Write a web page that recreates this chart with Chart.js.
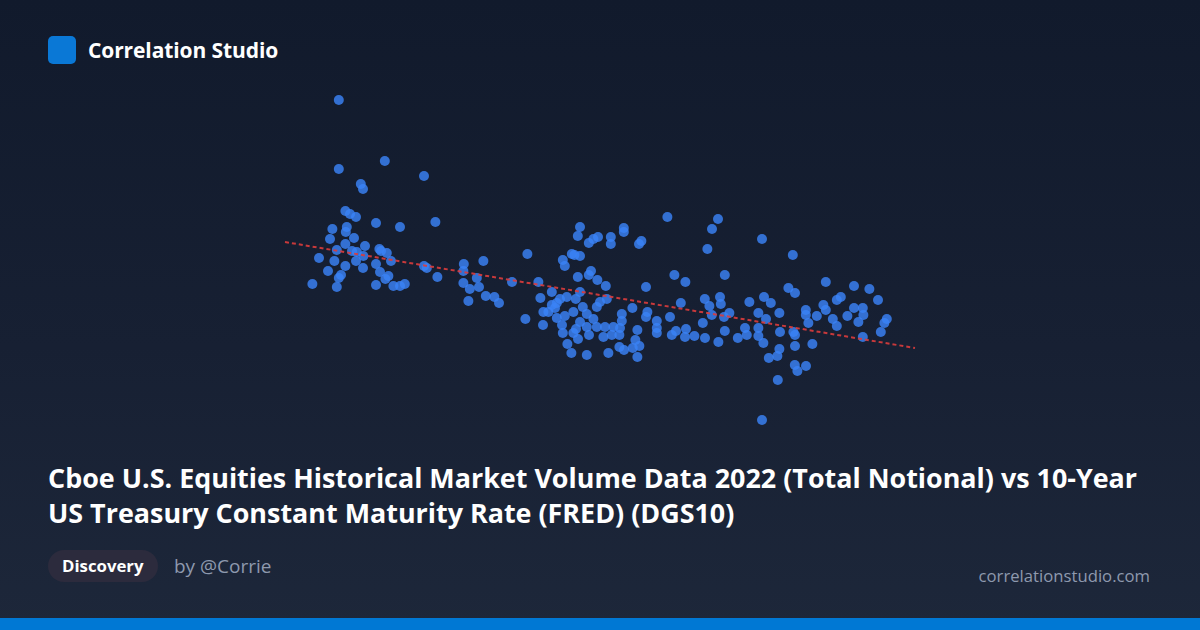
<!DOCTYPE html>
<html>
<head>
<meta charset="utf-8">
<title>Correlation Studio</title>
<script src="https://cdn.jsdelivr.net/npm/chart.js@4/dist/chart.umd.min.js"></script>
<style>
  html, body { margin: 0; padding: 0; }
  body {
    width: 1200px; height: 630px; overflow: hidden; position: relative;
    background: linear-gradient(180deg, #111a2c 0%, #172033 55%, #1d273a 100%);
    font-family: "Open Sans", "Noto Sans", sans-serif; color: #fff;
  }
  .brand { position: absolute; left: 48px; top: 36px; height: 28px; display: flex; align-items: center; }
  .logo { width: 28px; height: 28px; border-radius: 5px; background: #0a78d6; }
  .brand-name { margin-left: 12px; font-size: 21px; font-weight: 700; letter-spacing: -0.1px; }
  #chart-wrap { position: absolute; left: 0; top: 80px; width: 1200px; height: 360px; }
  .title {
    position: absolute; left: 48px; top: 460px; width: 1106px;
    font-size: 26.9px; font-weight: 700; line-height: 35px;
  }
  .badge {
    position: absolute; left: 48px; top: 550px; height: 32px; padding: 0 14px;
    border-radius: 16px; background: #2c2b3d; font-size: 16.8px; font-weight: 700;
    line-height: 32px;
  }
  .author { position: absolute; left: 174px; top: 553px; font-size: 19px; color: #8e99ae; line-height: 26px; }
  .site { position: absolute; right: 50px; top: 565px; font-size: 16.7px; color: #8e99ae; line-height: 22px; }
  .bar { position: absolute; left: 0; bottom: 0; width: 1200px; height: 12px; background: #0078d4; }
</style>
</head>
<body>
<div class="brand"><div class="logo"></div><div class="brand-name">Correlation Studio</div></div>
<div id="chart-wrap"><canvas id="scatter" width="1200" height="360"></canvas></div>
<div class="title">Cboe U.S. Equities Historical Market Volume Data 2022 (Total Notional) vs 10-Year US Treasury Constant Maturity Rate (FRED) (DGS10)</div>
<div class="badge">Discovery</div>
<div class="author">by @Corrie</div>
<div class="site">correlationstudio.com</div>
<div class="bar"></div>

<script>
"use strict";

/* ─── Data (no axes shown) ───────────────────────────────────── */

/* Total notional volume, $B */
const notional = [
  319.4, 319.4, 342.4, 362.0, 330.4, 331.5, 322.7, 325.0, 328.0, 338.0,
  367.7, 316.2, 350.0, 323.4, 322.9, 315.0, 327.0, 322.7, 332.5, 318.4,
  326.0, 328.4, 339.7, 340.5, 343.4, 331.7, 309.5, 317.2, 328.0, 345.5,
  338.0, 322.7, 331.5, 314.0, 340.0, 362.0, 363.4, 368.7, 320.5, 319.4,
  344.2, 342.7, 306.2, 318.4, 338.0, 346.7, 350.0, 352.4,
  440.0, 438.9, 444.4, 446.7, 449.0, 455.4, 455.4, 413.7, 391.7, 381.9,
  381.7, 431.4, 432.4, 435.9, 437.2, 440.0, 445.5, 444.4, 438.9, 448.7,
  452.9, 388.4, 381.7, 384.9, 389.5, 406.0, 419.2, 392.9, 397.2, 399.5,
  384.2, 425.9, 420.2, 440.0, 433.4, 437.9, 430.0, 428.4, 425.9, 427.5,
  421.7, 424.2, 436.7, 441.4, 448.4, 450.0, 453.4, 432.4, 428.4, 443.4,
  440.0, 446.7, 412.7, 421.5, 431.0, 438.0, 443.4, 448.4, 452.5, 431.4,
  436.7, 444.5, 451.7, 439.0, 433.7, 435.7, 443.4, 454.2,
  483.7, 509.0, 506.0, 503.7, 461.9, 461.9, 470.7, 469.5, 531.0, 473.0,
  487.2, 492.7, 512.4, 466.2, 473.7, 473.0, 460.9, 460.9, 460.0, 459.7,
  478.4, 478.4, 478.4, 485.0, 490.4, 502.4, 510.0, 504.7, 510.4, 505.9,
  514.7, 512.0, 524.7, 529.2, 501.4, 488.0, 493.0, 485.9, 492.5, 497.2,
  502.5, 509.2, 512.4, 518.9, 522.5, 523.4, 529.2, 529.2, 468.7, 467.7,
  469.7, 466.4, 462.0, 459.7, 468.7, 456.7, 455.9,
  546.4, 562.9, 577.0, 584.7, 589.0, 544.2, 547.5, 532.0, 535.4, 533.0,
  539.7, 552.9, 552.9, 554.2, 558.4, 561.7, 562.9, 568.4, 570.4, 566.4,
  568.4, 573.7, 577.0, 581.4, 581.7, 579.2, 593.4, 592.2, 590.4, 581.4,
  540.0, 546.7, 547.5, 531.7, 539.7, 538.7, 534.4, 547.5, 556.2, 547.4,
  548.7, 553.0, 538.9, 531.0
];

/* 10-year treasury rate, % */
const rate = [
  4.50, 3.81, 3.89, 3.74, 3.66, 3.61, 3.39, 3.36, 3.33, 3.27,
  3.28, 3.21, 3.23, 3.23, 3.18, 3.11, 3.12, 3.06, 3.04, 3.00,
  2.99, 2.98, 3.01, 2.99, 2.97, 2.94, 2.92, 2.89, 2.89, 2.89,
  2.86, 2.84, 2.82, 2.79, 2.78, 2.84, 2.82, 2.73, 2.75, 2.72,
  2.74, 2.71, 2.66, 2.63, 2.65, 2.64, 2.64, 2.66,
  3.23, 3.14, 3.07, 3.11, 3.13, 3.13, 3.06, 2.96, 2.89, 2.86,
  2.79, 2.90, 2.84, 2.96, 2.95, 2.94, 2.79, 2.75, 2.73, 2.70,
  2.64, 2.72, 2.67, 2.61, 2.63, 2.68, 2.68, 2.54, 2.53, 2.47,
  2.49, 2.58, 2.52, 2.58, 2.53, 2.51, 2.51, 2.47, 2.45, 2.42,
  2.38, 2.38, 2.38, 2.43, 2.43, 2.48, 2.51, 2.34, 2.32, 2.36,
  2.28, 2.31, 2.31, 2.25, 2.25, 2.21, 2.23, 2.23, 2.23, 2.17,
  2.17, 2.15, 2.13, 2.11, 2.06, 1.97, 1.95, 1.97,
  3.33, 3.31, 3.21, 3.01, 3.22, 3.18, 3.09, 3.06, 3.11, 2.63,
  2.75, 2.68, 2.75, 2.42, 2.38, 2.33, 2.36, 2.29, 2.22, 2.15,
  2.29, 2.22, 2.17, 2.33, 2.47, 2.51, 2.53, 2.44, 2.46, 2.35,
  2.37, 2.33, 2.48, 2.37, 2.27, 2.19, 2.21, 2.15, 2.13, 2.14,
  2.12, 2.08, 2.19, 2.12, 2.22, 2.15, 2.22, 2.14, 2.20, 2.10,
  2.04, 2.02, 2.00, 2.03, 1.93, 2.23, 2.15,
  2.95, 2.68, 2.64, 2.61, 2.50, 2.62, 2.57, 2.53, 2.47, 2.31,
  2.37, 2.40, 2.35, 2.27, 2.34, 2.45, 2.40, 2.50, 2.53, 2.31,
  2.24, 2.34, 2.42, 2.42, 2.35, 2.28, 2.31, 2.27, 2.18, 2.13,
  2.18, 2.18, 2.15, 2.07, 2.01, 1.94, 1.92, 2.04, 2.06, 1.85,
  1.79, 1.84, 1.70, 1.30
];

/* Fitted trend line endpoints */
const trendX = [292.5, 607.5];
const trendY = [3.08, 2.02];

/* Visible range of the (hidden) axes */
const X_RANGE = [150, 750];
const Y_RANGE = [1.10, 4.70];

/* ─── Chart ──────────────────────────────────────────────────── */

function toPoints(xs, ys) {
  return xs.map(function (x, i) {
    return { x: x, y: ys[i] };
  });
}

new Chart(document.getElementById("scatter"), {
  type: "scatter",
  data: {
    datasets: [
      {
        type: "line",
        data: toPoints(trendX, trendY),
        borderColor: "rgba(220,60,60,0.9)",
        borderWidth: 2,
        borderDash: [4, 3],
        pointRadius: 0,
        fill: false,
        order: 0,
      },
      {
        data: toPoints(notional, rate),
        backgroundColor: "rgba(59,130,246,0.82)",
        borderWidth: 0,
        pointRadius: 5,
        order: 1,
      },
    ],
  },
  options: {
    responsive: false,
    devicePixelRatio: 1,
    animation: false,
    layout: { padding: 0, autoPadding: false },
    scales: {
      x: { type: "linear", display: false, min: X_RANGE[0], max: X_RANGE[1] },
      y: { type: "linear", display: false, min: Y_RANGE[0], max: Y_RANGE[1] },
    },
    plugins: {
      legend: { display: false },
      tooltip: { enabled: false },
    },
  },
});
</script>
</body>
</html>
